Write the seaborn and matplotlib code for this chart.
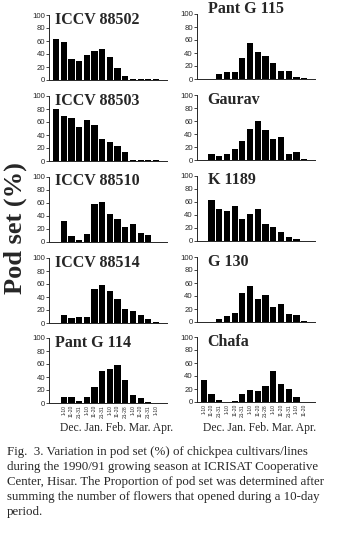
import numpy as np
import pandas as pd
import matplotlib
matplotlib.use("Agg")
import matplotlib.pyplot as plt
import seaborn as sns

# ---------------- data ----------------
left_names = ["ICCV 88502", "ICCV 88503", "ICCV 88510", "ICCV 88514", "Pant G 114"]
right_names = ["Pant G 115", "Gaurav", "K 1189", "G 130", "Chafa"]

iccv88502 = [63, 59, 33, 30, 39, 44, 48, 36, 19, 6, 1, 1, 1, 1]
iccv88503 = [80, 70, 66, 53, 63, 55, 34, 30, 23, 14, 1, 1, 1, 1]
iccv88510 = [0, 31, 8, 3, 12, 58, 61, 43, 35, 22, 27, 13, 10, 0]
iccv88514 = [0, 12, 7, 9, 9, 52, 58, 50, 37, 22, 19, 13, 6, 1]
pantg114 = [0, 9, 10, 3, 9, 24, 50, 52, 58, 36, 12, 8, 1, 0]

pantg115 = [0, 0, 8, 11, 11, 32, 55, 42, 35, 24, 13, 12, 3, 1]
gaurav = [0, 10, 6, 10, 17, 29, 48, 60, 46, 33, 36, 10, 12, 1]
k1189 = [0, 62, 49, 46, 53, 33, 41, 48, 25, 21, 13, 5, 2, 0]
g130 = [0, 0, 4, 10, 14, 44, 55, 36, 41, 23, 28, 13, 11, 2]
chafa = [34, 13, 3, 0, 2, 12, 18, 17, 25, 47, 27, 20, 7, 0]

left_vals = [iccv88502, iccv88503, iccv88510, iccv88514, pantg114]
right_vals = [pantg115, gaurav, k1189, g130, chafa]

left_ticklabels = ["", "1-10", "11-20", "21-31", "1-10", "11-20", "21-31",
                   "1-10", "11-20", "21-28", "1-10", "11-20", "21-31", "1-10"]
right_ticklabels = ["1-10", "11-20", "21-31", "1-10", "11-20", "21-31",
                    "1-10", "11-20", "21-28", "1-10", "11-20", "21-31", "1-10", "11-20"]
months = "Dec. Jan. Feb. Mar. Apr."
yticks = [0, 20, 40, 60, 80, 100]
ylabel = "Pod set (%)"
caption = ("Fig.  3. Variation in pod set (%) of chickpea cultivars/lines\n"
           "during the 1990/91 growing season at ICRISAT Cooperative\n"
           "Center, Hisar. The Proportion of pod set was determined after\n"
           "summing the number of flowers that opened during a 10-day\n"
           "period.")

# ---------------- figure ----------------
sns.set_style("ticks")
plt.rcParams["font.family"] = ["Liberation Sans", "DejaVu Sans"]

W, H = 344, 539
fig = plt.figure(figsize=(W / 100, H / 100), dpi=100)
fig.patch.set_facecolor("white")

row_bottoms = [80, 161, 241.5, 323, 403]  # pixel y of zero line
ax_h = 65
cols = [(49.3, 117.4), (197, 118)]
serif = ["Liberation Serif", "DejaVu Serif"]


def draw(ax, vals, name, ticklabels, bottom_row, title_x, title_y):
    df = pd.DataFrame({"bin": np.arange(len(vals)), "pct": vals})
    sns.barplot(data=df, x="bin", y="pct", color="black", saturation=1,
                width=0.8, ax=ax, edgecolor="none")
    ax.set_xlim(-0.88, 14.4)
    ax.set_ylim(0, 100)
    ax.set_yticks(yticks)
    ax.set_yticklabels([str(t) for t in yticks], fontsize=5.6)
    ax.tick_params(axis="y", length=2, width=0.6, pad=1)
    ax.set_xlabel("")
    ax.set_ylabel("")
    for s in ["top", "right"]:
        ax.spines[s].set_visible(False)
    for s in ["left", "bottom"]:
        ax.spines[s].set_linewidth(0.7)
    if bottom_row:
        ax.set_xticks(np.arange(len(vals)))
        ax.set_xticklabels(ticklabels, rotation=90, fontsize=3.6)
        ax.tick_params(axis="x", length=0, pad=1.5)
    else:
        ax.set_xticks([])
    ax.text(title_x, title_y, name, transform=ax.transAxes, ha="left",
            va="top", fontsize=11.5, fontweight="bold", family=serif)


for c, (names, vals_list, tlabels) in enumerate(
        [(left_names, left_vals, left_ticklabels),
         (right_names, right_vals, right_ticklabels)]):
    x0, w = cols[c]
    for r in range(5):
        yb = row_bottoms[r] - (c * 1)
        ax = fig.add_axes([x0 / W, 1 - yb / H, w / W, ax_h / H])
        tx = 0.05 if c == 0 else 0.09
        ty = 1.05
        if c == 1 and r == 0:
            ty = 1.2
        draw(ax, vals_list[r], names[r], tlabels, r == 4, tx, ty)

# month labels
fig.text(60 / W, 1 - 428 / H, months, ha="left", va="center",
         fontsize=8.4, family=serif)
fig.text(203 / W, 1 - 428 / H, months, ha="left", va="center",
         fontsize=8.4, family=serif)

# y label
fig.text(15 / W, 1 - 228 / H, ylabel, rotation=90, ha="center", va="center",
         fontsize=19, fontweight="bold", family=serif)

# caption
fig.text(7 / W, 1 - 446 / H, caption, ha="left", va="top", fontsize=9.3,
         family=serif, linespacing=1.32)

fig.savefig("out.png", dpi=100, facecolor="white")
